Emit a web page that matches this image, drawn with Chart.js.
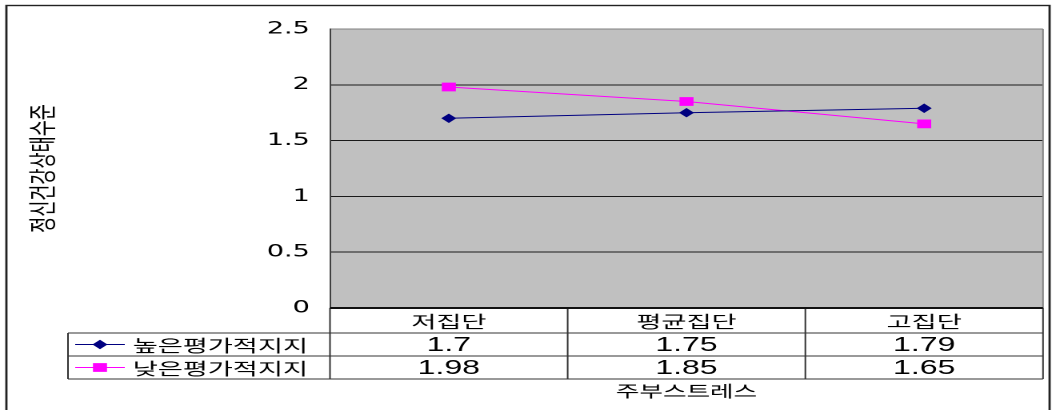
<!DOCTYPE html>
<html lang="ko">
<head>
<meta charset="utf-8">
<script src="https://cdn.jsdelivr.net/npm/chart.js@4.4.1/dist/chart.umd.min.js"></script>
<style>
  html, body { margin: 0; padding: 0; background: #fff; overflow: hidden; }
  /* the chart is laid out narrow and stretched sideways, like the exported sheet */
  #wrap { position: absolute; left: 0; top: 0; width: 659px; height: 410px; transform: scaleX(1.6); transform-origin: 0 0; }
</style>
</head>
<body>
<div id="wrap"><canvas id="chart"></canvas></div>
<script>
const categories = ['저집단', '평균집단', '고집단'];
const seriesNames = ['높은평가적지지', '낮은평가적지지'];
const highSupport = [1.7, 1.75, 1.79];
const lowSupport = [1.98, 1.85, 1.65];
const yTicks = [0, 0.5, 1, 1.5, 2, 2.5];
const xTitle = '주부스트레스';
const yTitle = '정신건강상태수준';

const KR = '"Noto Sans CJK KR", sans-serif';
const NUM = '"Liberation Sans", Arial, sans-serif';

// grey plot area + outer frame
const plotBackground = {
  id: 'plotBackground',
  beforeDraw(chart) {
    const { ctx, chartArea: a } = chart;
    ctx.save();
    ctx.strokeStyle = '#222';
    ctx.lineWidth = 1.4;
    ctx.strokeRect(4, 5.5, 652, 430);
    ctx.fillStyle = '#c0c0c0';
    ctx.fillRect(a.left, a.top, a.right - a.left, a.bottom - a.top);
    ctx.restore();
  }
};

// data table under the plot: category header, one row per series with legend key
const dataTable = {
  id: 'dataTable',
  afterDraw(chart) {
    const { ctx, chartArea: a, scales: { x } } = chart;
    const band = (a.right - a.left) / categories.length;
    const rows = [a.bottom, a.bottom + 25, a.bottom + 48, a.bottom + 71];
    const tableLeft = 42.5;
    ctx.save();

    ctx.strokeStyle = '#808080';
    ctx.lineWidth = 1;
    ctx.beginPath();
    ctx.moveTo(a.right, a.top);
    ctx.lineTo(a.right, a.bottom);
    ctx.stroke();

    ctx.strokeStyle = '#333';
    ctx.beginPath();
    for (let r = 1; r < rows.length; r++) {
      ctx.moveTo(tableLeft, rows[r]);
      ctx.lineTo(a.right, rows[r]);
    }
    ctx.moveTo(tableLeft, rows[1]);
    ctx.lineTo(tableLeft, rows[3]);
    ctx.moveTo(a.left, a.bottom);
    ctx.lineTo(a.left, rows[3]);
    for (let i = 1; i <= categories.length; i++) {
      ctx.moveTo(a.left + band * i, rows[0]);
      ctx.lineTo(a.left + band * i, rows[3]);
    }
    ctx.stroke();

    // category axis line
    ctx.strokeStyle = '#111';
    ctx.lineWidth = 2;
    ctx.beginPath();
    ctx.moveTo(a.left, a.bottom);
    ctx.lineTo(a.right, a.bottom);
    ctx.stroke();

    ctx.fillStyle = '#000';
    ctx.textAlign = 'center';
    ctx.textBaseline = 'middle';
    ctx.font = `17px ${KR}`;
    categories.forEach((c, i) => ctx.fillText(c, x.getPixelForValue(i), (rows[0] + rows[1]) / 2 + 1));

    chart.data.datasets.forEach((ds, r) => {
      const cy = (rows[r + 1] + rows[r + 2]) / 2;
      ctx.fillStyle = '#000';
      ctx.textAlign = 'center';
      ctx.font = `20px ${NUM}`;
      ds.data.forEach((v, i) => ctx.fillText(String(v), x.getPixelForValue(i), cy + 1));

      ctx.strokeStyle = ds.borderColor;
      ctx.lineWidth = 1;
      ctx.beginPath();
      ctx.moveTo(47, cy);
      ctx.lineTo(78, cy);
      ctx.stroke();
      ctx.fillStyle = ds.pointBackgroundColor;
      Chart.helpers.drawPoint(ctx, { pointStyle: ds.pointStyle, radius: ds.pointRadius, borderWidth: 1, rotation: 0 }, 62.5, cy);

      ctx.fillStyle = '#000';
      ctx.textAlign = 'left';
      ctx.font = `17px ${KR}`;
      ctx.fillText(ds.label, 83, cy + 1);
    });

    ctx.textAlign = 'center';
    ctx.font = `16px ${KR}`;
    ctx.fillText(xTitle, (a.left + a.right) / 2, 391);
    ctx.restore();
  }
};

new Chart(document.getElementById('chart'), {
  type: 'line',
  data: {
    labels: categories,
    datasets: [
      {
        label: seriesNames[0], data: highSupport,
        borderColor: '#000080', backgroundColor: '#000080',
        pointBackgroundColor: '#000080', pointBorderColor: '#000080',
        pointStyle: 'rectRot', pointRadius: 4, borderWidth: 1, tension: 0
      },
      {
        label: seriesNames[1], data: lowSupport,
        borderColor: '#ff00ff', backgroundColor: '#ff00ff',
        pointBackgroundColor: '#ff00ff', pointBorderColor: '#ff00ff',
        pointStyle: 'rect', pointRadius: 5.5, borderWidth: 1, tension: 0
      }
    ]
  },
  options: {
    responsive: true,
    maintainAspectRatio: false,
    animation: false,
    devicePixelRatio: 2,
    layout: { padding: { left: 0, top: 29, right: 7.1, bottom: 102 } },
    plugins: { legend: { display: false }, tooltip: { enabled: false } },
    scales: {
      x: {
        type: 'category',
        offset: true,
        grid: { display: false, drawTicks: false },
        border: { display: false },
        ticks: { display: false },
        afterFit(s) { s.height = 0; }
      },
      y: {
        min: 0,
        max: 2.5,
        afterBuildTicks(s) { s.ticks = yTicks.map(v => ({ value: v })); },
        ticks: {
          padding: 12.5,
          color: '#000',
          font: { family: '"DejaVu Sans", sans-serif', size: 17 },
          callback: v => String(v)
        },
        grid: {
          color: c => (c.tick && c.tick.value === 2.5 ? '#808080' : '#1a1a1a'),
          drawTicks: false,
          lineWidth: 1
        },
        border: { display: true, color: '#404040', width: 1 },
        title: {
          display: true,
          text: yTitle,
          color: '#000',
          font: { family: KR, size: 17.5 },
          padding: { top: 16, bottom: 0 }
        },
        afterFit(s) { s.width = 206.25; }
      }
    }
  },
  plugins: [plotBackground, dataTable]
});
</script>
</body>
</html>
